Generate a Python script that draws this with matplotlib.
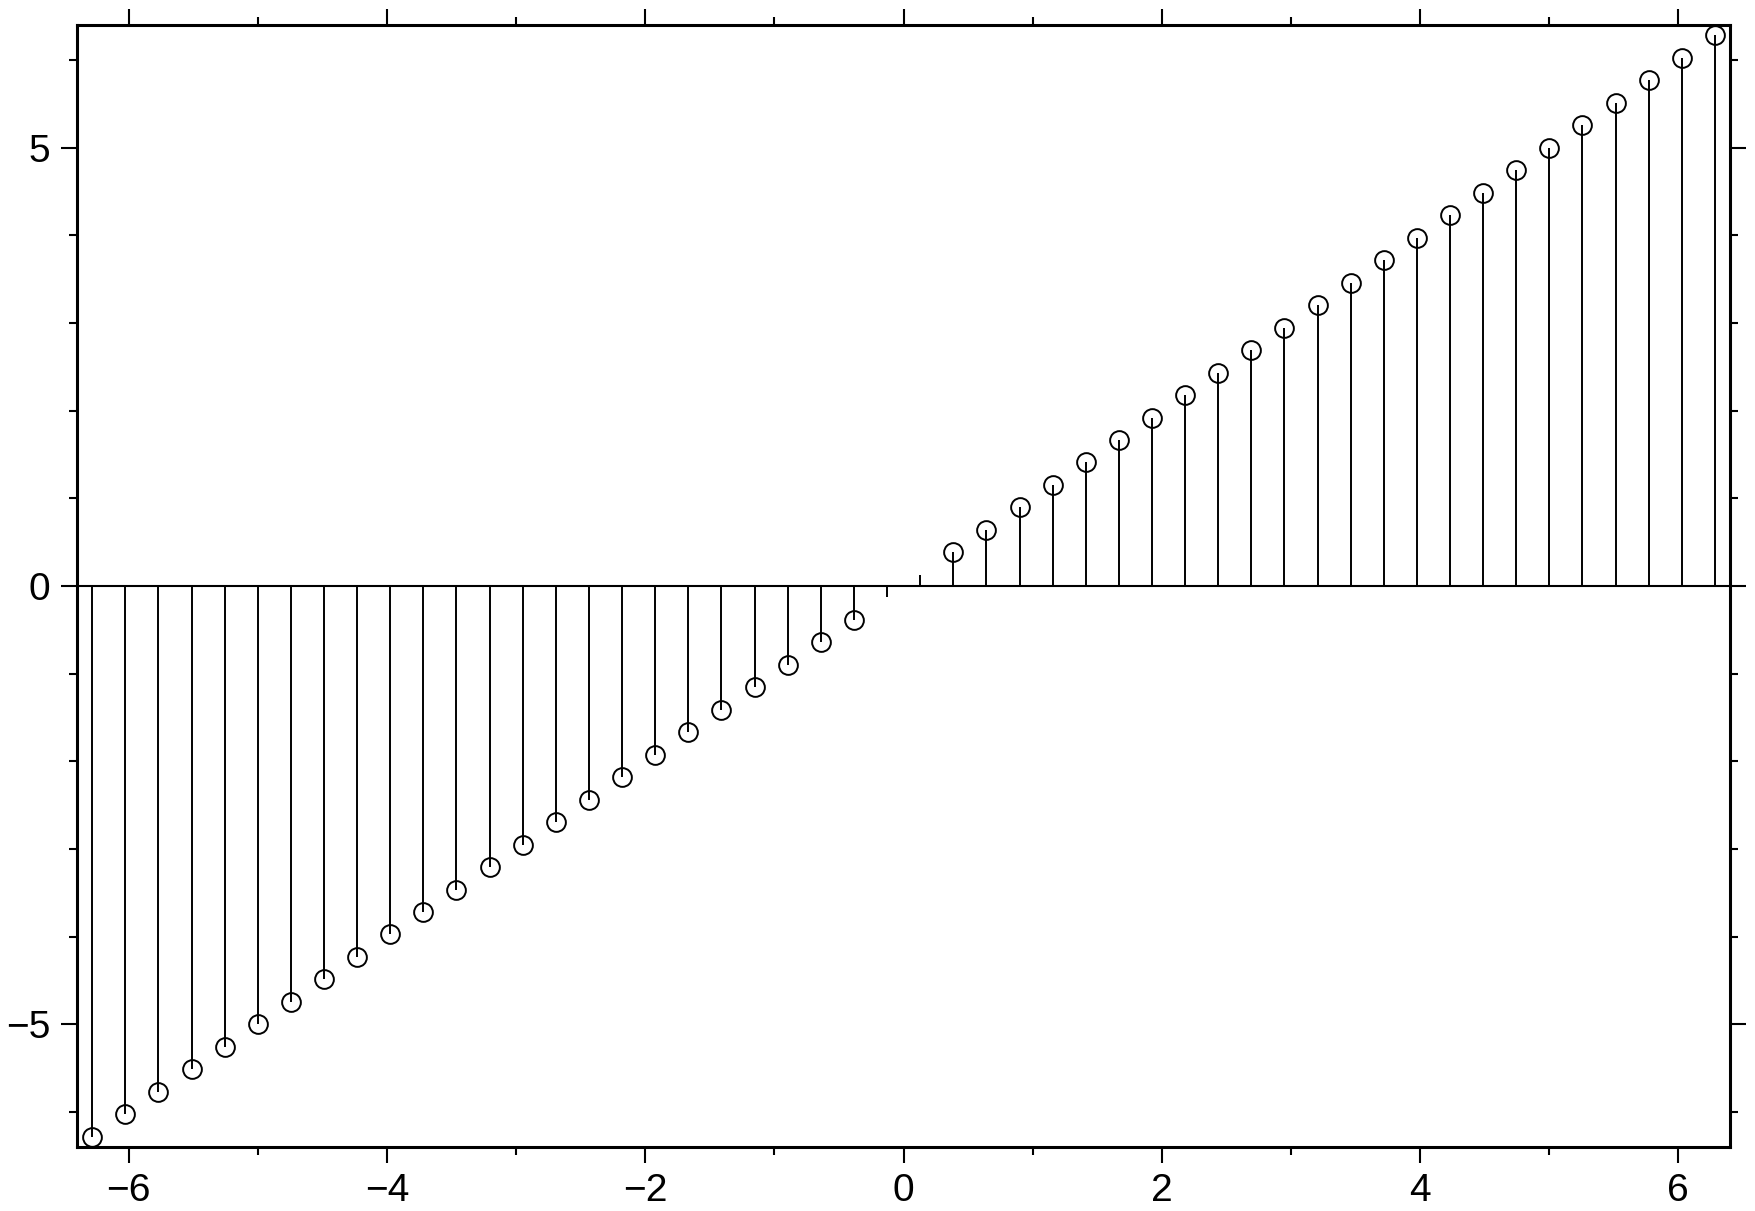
import numpy as np
import matplotlib
matplotlib.use("Agg")
import matplotlib.pyplot as plt
from matplotlib.ticker import MultipleLocator

# valores (x de -2pi a 2pi, y = x)
x_neg = [-6.283, -6.027, -5.770, -5.514, -5.257, -5.001, -4.744, -4.488,
         -4.232, -3.975, -3.719, -3.462, -3.206, -2.949, -2.693, -2.436,
         -2.180, -1.923, -1.667, -1.411, -1.154, -0.898, -0.641, -0.385,
         -0.128]
x_pos = [0.128, 0.385, 0.641, 0.898, 1.154, 1.411, 1.667, 1.923, 2.180,
         2.436, 2.693, 2.949, 3.206, 3.462, 3.719, 3.975, 4.232, 4.488,
         4.744, 5.001, 5.257, 5.514, 5.770, 6.027, 6.283]
y_neg = list(x_neg)
y_pos = list(x_pos)

x = np.array(x_neg + x_pos)
y = np.array(y_neg + y_pos)
con_circulo = np.abs(y) > 0.2

plt.rcParams['font.family'] = ['Liberation Sans', 'DejaVu Sans']

fig = plt.figure(figsize=(17.56, 12.11), dpi=100)
ax = fig.add_axes([0.0439, 0.0528, 0.9413, 0.9265])

ax.axhline(0, color='black', lw=1.5, zorder=2)
ax.vlines(x, 0, y, color='black', lw=1.4, zorder=3)
ax.plot(x[con_circulo], y[con_circulo], 'o', ms=13.5, mfc='none',
        mec='black', mew=1.4, clip_on=False, zorder=4)

ax.set_xlim(-6.4, 6.4)
ax.set_ylim(-6.4, 6.4)
ax.xaxis.set_major_locator(MultipleLocator(2))
ax.xaxis.set_minor_locator(MultipleLocator(1))
ax.yaxis.set_major_locator(MultipleLocator(5))
ax.yaxis.set_minor_locator(MultipleLocator(1))

for s in ax.spines.values():
    s.set_linewidth(2.2)

ax.tick_params(which='both', direction='out', top=True, right=True,
               labeltop=False, labelright=False, width=1.5, color='black')
ax.tick_params(which='major', length=11.5, labelsize=28)
ax.tick_params(which='minor', length=6)
ax.tick_params(axis='x', which='major', pad=7)
ax.tick_params(axis='y', which='major', pad=8)

plt.savefig('out.png', dpi=100)
